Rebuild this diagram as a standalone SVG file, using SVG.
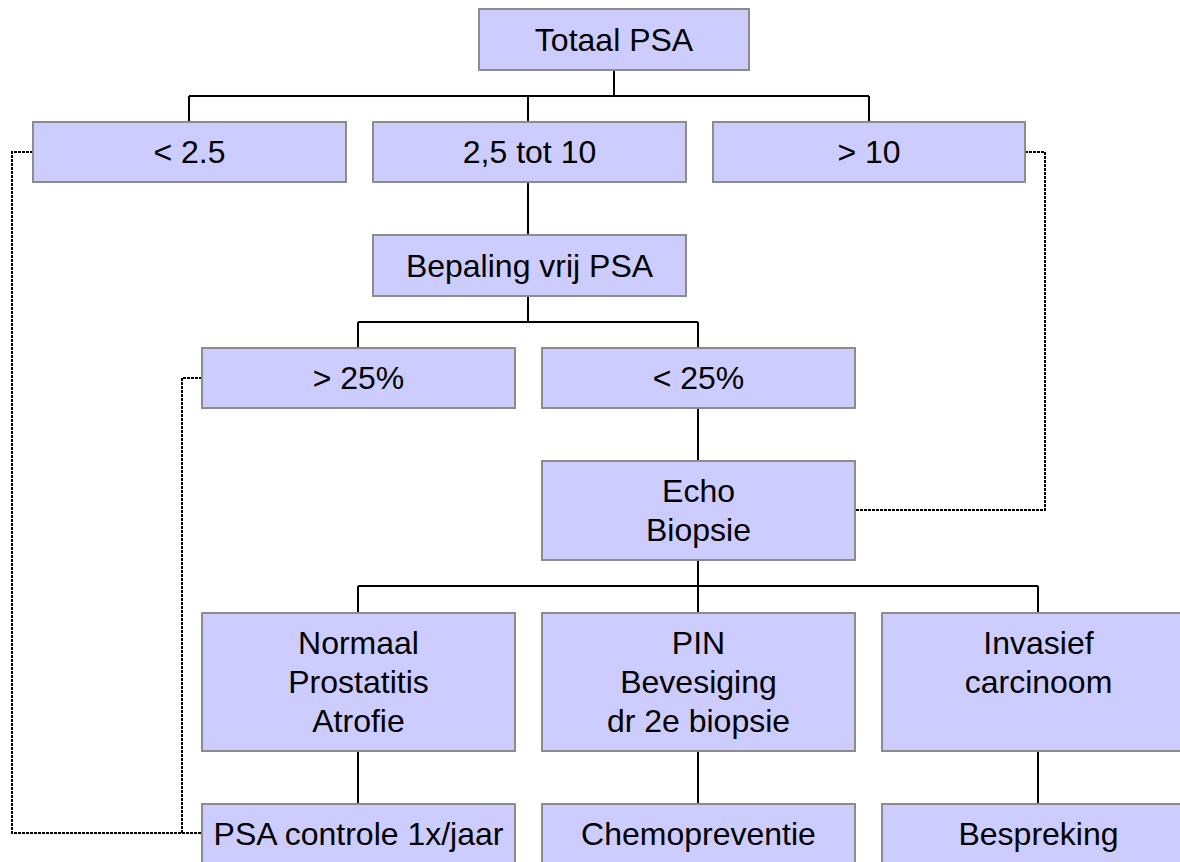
<svg xmlns="http://www.w3.org/2000/svg" width="1180" height="862" viewBox="0 0 1180 862">
<style>
.box{fill:#CCCCFF;stroke:#8C8C8C;stroke-width:2}
.t{font-family:"Liberation Sans",Arial,sans-serif;font-size:32px;fill:#000;text-anchor:middle}
.ln{fill:none;stroke:#000;stroke-width:2}
.dot{fill:none;stroke:#000;stroke-width:2;stroke-dasharray:3 1}
</style>
<rect width="1180" height="862" fill="#fff"/>
<g id="connectors">
<path class="ln" d="M614,70 V96 M189,96 H869 M189,96 V122 M528,96 V122 M869,96 V122"/>
<path class="ln" d="M528,182 V235 M528,296 V322 M358,322 H698 M358,322 V348 M698,322 V348"/>
<path class="ln" d="M698,408 V461 M698,560 V586 M358,586 H1038 M358,586 V613 M698,586 V613 M1038,586 V613"/>
<path class="ln" d="M358,751 V804 M698,751 V804 M1038,751 V804"/>
<path class="dot" d="M33,152 H12 V833 H202"/>
<path class="dot" d="M202,378 H182 V833"/>
<path class="dot" d="M1025,152 H1045 V510 H855"/>
</g>
<g id="n-totaal"><rect class="box" x="479" y="9" width="270" height="61"/><text class="t" x="614" y="51">Totaal PSA</text></g>
<g id="n-lt25"><rect class="box" x="33" y="122" width="313" height="60"/><text class="t" x="189.5" y="163">&lt; 2.5</text></g>
<g id="n-mid"><rect class="box" x="373" y="122" width="313" height="60"/><text class="t" x="529.5" y="163">2,5 tot 10</text></g>
<g id="n-gt10"><rect class="box" x="713" y="122" width="312" height="60"/><text class="t" x="869" y="163">&gt; 10</text></g>
<g id="n-bepaling"><rect class="box" x="373" y="235" width="313" height="61"/><text class="t" x="529.5" y="277">Bepaling vrij PSA</text></g>
<g id="n-gt25"><rect class="box" x="202" y="348" width="313" height="60"/><text class="t" x="358.5" y="389">&gt; 25%</text></g>
<g id="n-lt25p"><rect class="box" x="542" y="348" width="313" height="60"/><text class="t" x="698.5" y="389">&lt; 25%</text></g>
<g id="n-echo"><rect class="box" x="542" y="461" width="313" height="99"/><text class="t" x="698.5" y="502">Echo</text><text class="t" x="698.5" y="541">Biopsie</text></g>
<g id="n-normaal"><rect class="box" x="202" y="613" width="313" height="138"/><text class="t" x="358.5" y="654">Normaal</text><text class="t" x="358.5" y="693">Prostatitis</text><text class="t" x="358.5" y="732">Atrofie</text></g>
<g id="n-pin"><rect class="box" x="542" y="613" width="313" height="138"/><text class="t" x="698.5" y="654">PIN</text><text class="t" x="698.5" y="693">Bevesiging</text><text class="t" x="698.5" y="732">dr 2e biopsie</text></g>
<g id="n-invasief"><rect class="box" x="882" y="613" width="313" height="138"/><text class="t" x="1038.5" y="654">Invasief</text><text class="t" x="1038.5" y="693">carcinoom</text></g>
<g id="n-psacontrole"><rect class="box" x="202" y="804" width="313" height="60"/><text class="t" x="358.5" y="845">PSA controle 1x/jaar</text></g>
<g id="n-chemo"><rect class="box" x="542" y="804" width="313" height="60"/><text class="t" x="698.5" y="845">Chemopreventie</text></g>
<g id="n-bespreking"><rect class="box" x="882" y="804" width="313" height="60"/><text class="t" x="1038.5" y="845">Bespreking</text></g>
</svg>
